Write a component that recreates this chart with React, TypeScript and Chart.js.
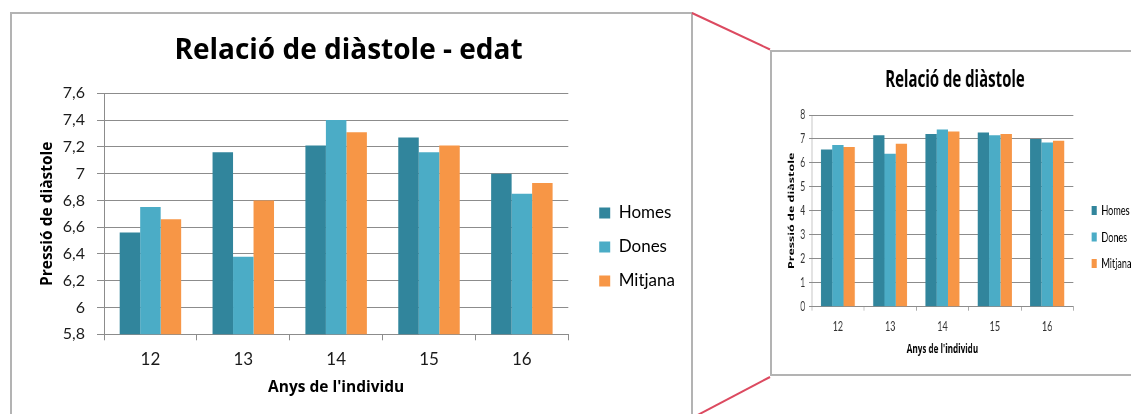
import React, { useEffect, useRef } from 'react';
import { Chart, registerables } from 'chart.js';

Chart.register(...registerables);

// ---------- data ----------
const categories = ['12', '13', '14', '15', '16'];
const homes = [6.56, 7.16, 7.21, 7.27, 7.0];
const dones = [6.75, 6.38, 7.4, 7.16, 6.85];
const mitjana = [6.66, 6.8, 7.31, 7.21, 6.93];
const seriesNames = ['Homes', 'Dones', 'Mitjana'];
const seriesColors = ['#31859C', '#4BACC6', '#F79646'];
const mainTitle = 'Relació de diàstole - edat';
const zoomTitle = 'Relació de diàstole';
const yAxisTitle = 'Pressió de diàstole';
const xAxisTitle = "Anys de l'individu";
const mainYRange = [5.8, 7.6, 0.2];
const zoomYRange = [0, 8, 1];

const FONT = 'Lato';
const TITLE_FONT = 'Open Sans';
const GRID = '#8c8c8c';

const fmt = (v: number) => String(Math.round(Number(v) * 10) / 10).replace('.', ',');

type Layout = {
  cat: number;
  titleSize: number; titleTop: number; titleBottom: number;
  legendSize: number; boxW: number; boxH: number; legendPad: number;
  xHeight: number; xTick: number; xTickSize: number; xTickPad: number;
  xTitleSize: number; xTitleBottom: number;
  yWidth: number; yTick: number; yTickSize: number; yTickPad: number;
  yTitleSize: number; yTitleTop: number;
  plotRight: number;
  tickColor: string;
};

function makeConfig(p: Layout, title: string, range: number[]): any {
  const values = [homes, dones, mitjana];
  return {
    type: 'bar',
    data: {
      labels: categories,
      datasets: values.map((d, i) => ({
        label: seriesNames[i],
        data: d,
        backgroundColor: seriesColors[i],
        borderWidth: 0,
        barPercentage: 1,
        categoryPercentage: p.cat,
      })),
    },
    options: {
      responsive: false,
      animation: false,
      events: [],
      layout: { padding: 0 },
      plugins: {
        title: {
          display: true,
          text: title,
          color: '#000',
          font: { family: TITLE_FONT, size: p.titleSize, weight: 'bold' },
          padding: { top: p.titleTop, bottom: p.titleBottom },
        },
        legend: {
          position: 'right',
          align: 'center',
          labels: {
            color: '#000',
            font: { family: FONT, size: p.legendSize },
            boxWidth: p.boxW,
            boxHeight: p.boxH,
            padding: p.legendPad,
          },
        },
        tooltip: { enabled: false },
      },
      scales: {
        x: {
          grid: { display: true, drawOnChartArea: false, drawTicks: true, tickLength: p.xTick, color: GRID, offset: true },
          border: { display: true, color: GRID },
          ticks: { color: p.tickColor, font: { family: FONT, size: p.xTickSize }, padding: p.xTickPad, maxRotation: 0 },
          title: {
            display: true,
            text: xAxisTitle,
            color: '#000',
            font: { family: TITLE_FONT, size: p.xTitleSize, weight: 'bold' },
            padding: { top: 0, bottom: p.xTitleBottom },
          },
          afterFit: (s: any) => { s.height = p.xHeight; },
        },
        y: {
          min: range[0],
          max: range[1],
          ticks: {
            stepSize: range[2],
            callback: (v: any) => fmt(v),
            color: p.tickColor,
            font: { family: FONT, size: p.yTickSize },
            padding: p.yTickPad,
          },
          grid: { color: GRID, tickLength: p.yTick },
          border: { display: true, color: GRID },
          title: {
            display: true,
            text: yAxisTitle,
            color: '#000',
            font: { family: TITLE_FONT, size: p.yTitleSize, weight: 'bold' },
            padding: { top: p.yTitleTop, bottom: 0 },
          },
          afterFit: (s: any) => { s.width = p.yWidth; },
        },
        gap: {
          type: 'linear',
          position: 'right',
          display: true,
          grid: { display: false },
          border: { display: false },
          ticks: { display: false },
          afterFit: (s: any) => {
            const lw = s.chart.legend ? s.chart.legend.width : 0;
            s.width = Math.max(0, s.chart.width - lw - p.plotRight);
          },
        },
      },
    },
  };
}

const mainLayout: Layout = {
  cat: 0.662,
  titleSize: 28, titleTop: 20.2, titleBottom: 25.5,
  legendSize: 17, boxW: 11, boxH: 11, legendPad: 17,
  xHeight: 145.7, xTick: 6, xTickSize: 17, xTickPad: 9.5,
  xTitleSize: 15.5, xTitleBottom: 82.7,
  yWidth: 92, yTick: 7, yTickSize: 16, yTickPad: 12,
  yTitleSize: 15.5, yTitleTop: 26.7,
  plotRight: 556.3,
  tickColor: '#1a1a1a',
};

const zoomLayout: Layout = {
  cat: 0.65,
  titleSize: 23, titleTop: 14.7, titleBottom: 20.7,
  legendSize: 14, boxW: 8, boxH: 9, legendPad: 12.5,
  xHeight: 115.3, xTick: 4, xTickSize: 14, xTickPad: 7.7,
  xTitleSize: 12.5, xTitleBottom: 65.5,
  yWidth: 61, yTick: 4, yTickSize: 13, yTickPad: 6,
  yTitleSize: 12.5, yTitleTop: 22.8,
  plotRight: 463.5,
  tickColor: '#333333',
};

function ChartCanvas({ config, width, height, style }: { config: any; width: number; height: number; style?: any }) {
  const ref = useRef<HTMLCanvasElement>(null);
  useEffect(() => {
    const chart = new Chart(ref.current as HTMLCanvasElement, config);
    return () => chart.destroy();
  }, []);
  return (
    <canvas
      ref={ref}
      width={width}
      height={height}
      style={{ display: 'block', position: 'absolute', left: 0, top: 0, width, height, ...(style || {}) }}
    />
  );
}

export default function App() {
  const boxStyle = {
    position: 'absolute' as const,
    border: '2px solid #b3b3b3',
    boxSizing: 'border-box' as const,
    overflow: 'hidden',
    background: '#fff',
  };
  return (
    <div style={{ position: 'absolute', left: 0, top: 0, width: 1131, height: 414, overflow: 'hidden', background: '#fff' }}>
      <div style={{ ...boxStyle, left: 10, top: 12, width: 683, height: 480 }}>
        <ChartCanvas config={makeConfig(mainLayout, mainTitle, mainYRange)} width={673} height={466} />
      </div>
      <div style={{ ...boxStyle, left: 770, top: 50, width: 380, height: 326 }}>
        <ChartCanvas
          config={makeConfig(zoomLayout, zoomTitle, zoomYRange)}
          width={563}
          height={370}
          style={{ transform: 'scaleX(0.65)', transformOrigin: '0 0' }}
        />
      </div>
      <svg style={{ position: 'absolute', left: 0, top: 0 }} width={1131} height={414}>
        <line x1={692} y1={13} x2={770} y2={49.5} stroke="#dc4a60" strokeWidth={2} />
        <line x1={770} y1={377} x2={692} y2={418} stroke="#dc4a60" strokeWidth={2} />
      </svg>
    </div>
  );
}
